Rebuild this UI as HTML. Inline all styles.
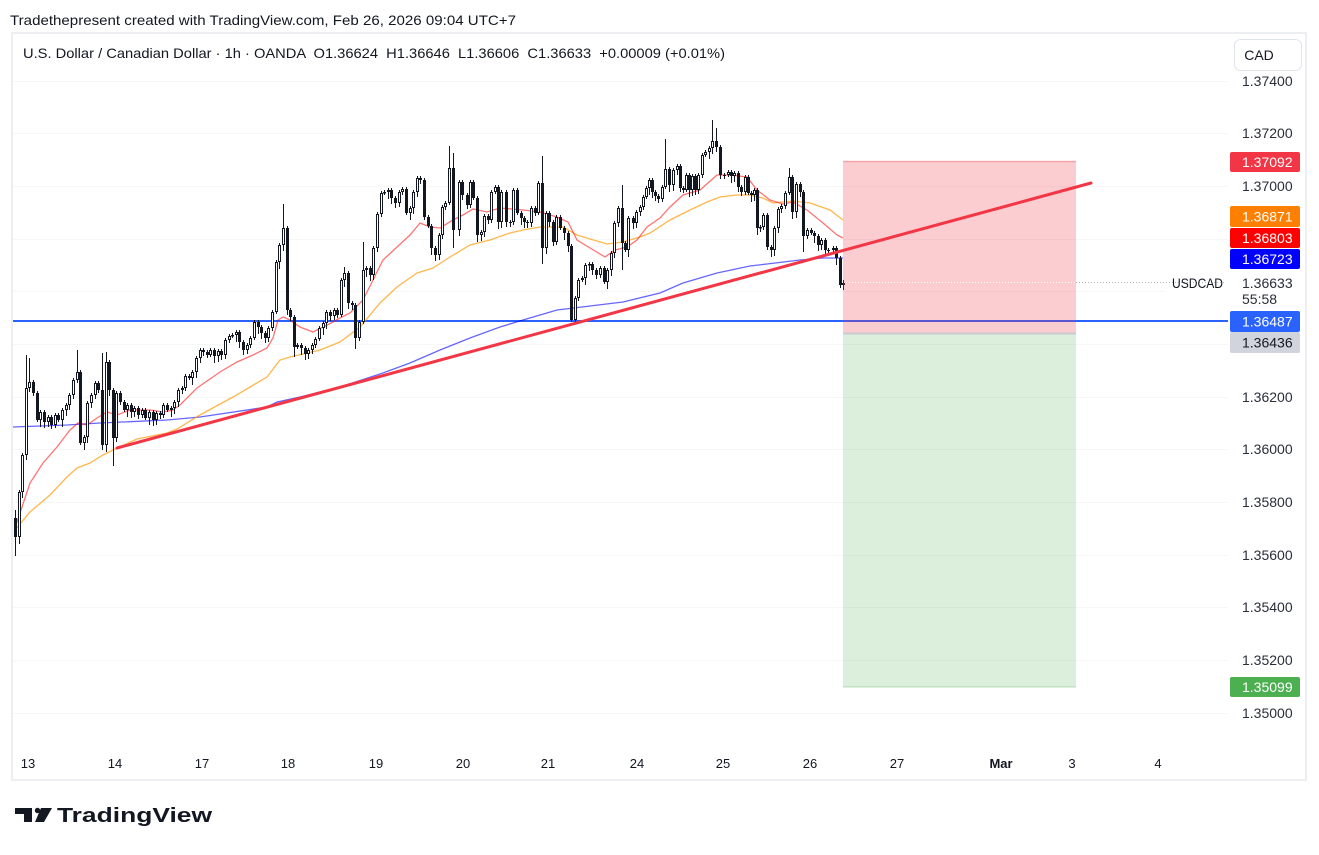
<!DOCTYPE html>
<html>
<head>
<meta charset="utf-8">
<style>
html,body{margin:0;padding:0;background:#fff;}
svg{display:block;font-family:"Liberation Sans",Arial,sans-serif;}
</style>
</head>
<body>
<svg id="chart" width="1319" height="855" viewBox="0 0 1319 855">
  <rect x="0" y="0" width="1319" height="855" fill="#ffffff"/>
  <!-- header -->
  <text x="10" y="25" font-size="14" fill="#131722" textLength="506" lengthAdjust="spacingAndGlyphs">Tradethepresent created with TradingView.com, Feb 26, 2026 09:04 UTC+7</text>
  <!-- frame -->
  <rect x="12" y="33" width="1294" height="747" fill="#ffffff" stroke="#eceef2" stroke-width="2"/>
  <!-- gridlines -->
  <g stroke="#f5f6f8" stroke-width="1">
    <line x1="13" x2="1228" y1="81.5" y2="81.5"/>
    <line x1="13" x2="1228" y1="133.5" y2="133.5"/>
    <line x1="13" x2="1228" y1="186.5" y2="186.5"/>
    <line x1="13" x2="1228" y1="239.5" y2="239.5"/>
    <line x1="13" x2="1165" y1="291.5" y2="291.5"/>
    <line x1="13" x2="1228" y1="344.5" y2="344.5"/>
    <line x1="13" x2="1228" y1="397.5" y2="397.5"/>
    <line x1="13" x2="1228" y1="449.5" y2="449.5"/>
    <line x1="13" x2="1228" y1="502.5" y2="502.5"/>
    <line x1="13" x2="1228" y1="555.5" y2="555.5"/>
    <line x1="13" x2="1228" y1="607.5" y2="607.5"/>
    <line x1="13" x2="1228" y1="660.5" y2="660.5"/>
    <line x1="13" x2="1228" y1="713.5" y2="713.5"/>
  </g>
  <!-- legend -->
  <text x="23" y="58" font-size="14" fill="#131722" style="white-space:pre" textLength="702" lengthAdjust="spacingAndGlyphs">U.S. Dollar / Canadian Dollar · 1h · OANDA  O1.36624  H1.36646  L1.36606  C1.36633  +0.00009 (+0.01%)</text>

  <!-- horizontal blue line -->
  <line x1="13" x2="1228" y1="321" y2="321" stroke="#2962ff" stroke-width="2"/>

  <!-- moving averages -->
  <polyline fill="none" stroke="#0000ff" stroke-opacity="0.6" stroke-width="1.3" points="13,427 67,425 100,423 167,420 200,417 267,407 277,402 300,397 340,387 380,374 410,363 440,350 470,338 500,327 523,320 557,310 590,306 623,302 660,293 683,283 717,273 750,266 767,264 800,260 823,258 843,258"/>
  <polyline fill="none" stroke="#ff9800" stroke-opacity="0.7" stroke-width="1.3" points="15,530 30,512 50,495 67,477 77,468 90,463 103,455 117,448 137,439 157,435 167,433 177,429 200,415 233,397 267,377 280,360 290,357 303,354 320,350 340,342 360,327 380,303 397,287 417,273 433,268 450,257 470,245 490,240 510,233 523,230 540,227 563,227 577,235 590,239 607,244 623,242 640,237 650,233 670,220 690,210 707,202 720,197 737,195 750,195 763,198 773,203 793,201 810,203 830,210 843,220"/>
  <polyline fill="none" stroke="#ff0000" stroke-opacity="0.55" stroke-width="1.3" points="15,528 17,522 30,483 43,463 57,447 70,430 78,423 87,425 97,418 107,412 117,415 130,410 150,410 163,412 173,410 180,405 197,388 220,372 237,362 253,355 267,348 273,338 278,320 283,317 290,320 300,327 313,332 323,327 333,322 340,318 350,313 363,300 373,280 383,260 397,247 410,235 420,223 430,227 440,228 453,220 463,215 473,209 487,212 500,208 523,210 540,212 557,217 568,222 577,240 590,248 605,257 615,250 627,247 637,240 647,227 660,218 670,207 683,195 700,190 717,175 730,175 747,177 757,190 770,200 783,204 793,202 807,210 823,223 837,235 843,238"/>

  <!-- candles -->
  <g id="cd"></g>

  <!-- position boxes -->
  <rect x="843" y="161" width="233" height="173" fill="#f23645" fill-opacity="0.25"/>
  <line x1="843" x2="1076" y1="161.5" y2="161.5" stroke="#f23645" stroke-opacity="0.3" stroke-width="1.5"/>
  <rect x="843" y="334" width="233" height="353" fill="#4caf50" fill-opacity="0.2"/>
  <line x1="843" x2="1076" y1="687" y2="687" stroke="#4caf50" stroke-opacity="0.3" stroke-width="1.2"/>
  <line x1="843" x2="1076" y1="333.5" y2="333.5" stroke="#c9cbd3" stroke-width="2"/>
  <!-- last price dotted -->
  <line x1="846" x2="1076" y1="282.5" y2="282.5" stroke="#ffffff" stroke-width="1" stroke-dasharray="1 2"/>
  <line x1="1076" x2="1225" y1="282.5" y2="282.5" stroke="#b2b5be" stroke-width="1" stroke-dasharray="1 2"/>

  <!-- trendline -->
  <line x1="117" y1="448" x2="1091" y2="183" stroke="#f23645" stroke-width="3" stroke-linecap="round"/>

  <!-- CAD button -->
  <rect x="1234.5" y="39.5" width="67" height="31" rx="6" fill="#fff" stroke="#e0e3eb"/>
  <text x="1259" y="60" font-size="14" fill="#131722" text-anchor="middle">CAD</text>

  <!-- axis labels -->
  <g font-size="14" fill="#2a2e39">
    <text x="1242" y="86">1.37400</text>
    <text x="1242" y="138">1.37200</text>
    <text x="1242" y="191">1.37000</text>
    <text x="1242" y="402">1.36200</text>
    <text x="1242" y="454">1.36000</text>
    <text x="1242" y="507">1.35800</text>
    <text x="1242" y="560">1.35600</text>
    <text x="1242" y="612">1.35400</text>
    <text x="1242" y="665">1.35200</text>
    <text x="1242" y="718">1.35000</text>
  </g>

  <!-- colored price labels -->
  <rect x="1230" y="152" width="70" height="20" rx="2" fill="#f23645"/>
  <text x="1242" y="167" font-size="14" fill="#fff">1.37092</text>
  <rect x="1230" y="206" width="70" height="21" rx="2" fill="#ff8000"/>
  <text x="1242" y="221.5" font-size="14" fill="#fff">1.36871</text>
  <rect x="1230" y="228" width="70" height="20" rx="2" fill="#ff0000"/>
  <text x="1242" y="243" font-size="14" fill="#fff">1.36803</text>
  <rect x="1230" y="249" width="70" height="20" rx="2" fill="#0000ff"/>
  <text x="1242" y="264" font-size="14" fill="#fff">1.36723</text>
  <text x="1172" y="288" font-size="14" fill="#131722" textLength="51" lengthAdjust="spacingAndGlyphs">USDCAD</text>
  <text x="1242" y="288" font-size="14" fill="#2a2e39">1.36633</text>
  <text x="1242" y="304" font-size="14" fill="#2a2e39">55:58</text>
  <rect x="1230" y="311" width="70" height="21" rx="2" fill="#2962ff"/>
  <text x="1242" y="326.5" font-size="14" fill="#fff">1.36487</text>
  <rect x="1230" y="332" width="70" height="21" rx="2" fill="#d1d4dc"/>
  <text x="1242" y="347.5" font-size="14" fill="#131722">1.36436</text>
  <rect x="1230" y="677" width="70" height="20" rx="2" fill="#4caf50"/>
  <text x="1242" y="692" font-size="14" fill="#fff">1.35099</text>

  <!-- time axis -->
  <g font-size="13" fill="#131722" text-anchor="middle">
    <text x="28" y="768">13</text>
    <text x="115" y="768">14</text>
    <text x="202" y="768">17</text>
    <text x="288" y="768">18</text>
    <text x="376" y="768">19</text>
    <text x="463" y="768">20</text>
    <text x="548" y="768">21</text>
    <text x="637" y="768">24</text>
    <text x="723" y="768">25</text>
    <text x="810" y="768">26</text>
    <text x="897" y="768">27</text>
    <text x="1001" y="768" font-weight="bold">Mar</text>
    <text x="1072" y="768">3</text>
    <text x="1158" y="768">4</text>
  </g>

  <!-- TradingView logo -->
  <g fill="#131722">
    <path d="M15,808 H32 V822 H24 V814 H15 Z"/>
    <circle cx="37.5" cy="810.5" r="2.7"/>
    <path d="M41,808 H52 L44,822 H35 Z"/>
  </g>
  <text x="57" y="822" font-size="20" font-weight="bold" fill="#131722" textLength="155" lengthAdjust="spacingAndGlyphs">TradingView</text>
</svg>
<script>
(function(){
var F=[537,492,455,388,382,393,420,412,422,417,425,415,420,410,405,395,380,372,443,437,403,395,383,390,445,362,390,438,393,402,410,405,412,408,415,410,418,412,420,413,415,405,410,408,402,390,388,376,378,372,358,350,352,355,350,356,351,355,340,336,335,332,342,350,345,338,322,327,333,338,328,312,262,245,228,310,317,347,345,348,354,350,345,339,328,323,312,316,310,315,280,273,303,305,338,322,270,268,275,248,214,193,192,190,198,203,192,189,213,208,192,178,180,217,226,248,255,235,207];
var S=[[445,203],[449,168],[453,230],[459,182],[462,195],[467,205],[470,182],[473,198],[477,235],[481,232],[484,216],[488,220],[491,192],[495,187],[498,222],[501,192],[506,222],[510,222],[513,190],[517,213],[521,218],[524,222],[527,223],[531,208],[535,213],[538,183],[542,248],[546,213],[549,222],[553,242],[556,217],[560,228],[564,233],[568,246],[571,320],[575,298],[578,280],[582,278],[585,265],[589,264],[592,270],[596,275],[600,268],[604,282],[607,270],[611,253],[614,223],[618,208],[622,243],[625,250],[628,218],[633,223],[636,212],[640,207],[643,197],[646,188],[649,180],[652,192],[655,196],[658,199],[662,187],[665,169],[669,185],[673,170],[677,166],[680,188],[683,190],[686,175],[689,190],[692,176],[695,190],[698,175],[702,155],[705,152],[709,148],[712,141],[716,147],[720,175],[724,175],[728,172],[731,176],[734,173],[738,187],[741,192],[745,177],[748,193],[751,195],[754,190],[757,228],[760,227],[763,215],[767,247],[771,250],[774,228],[778,209],[781,206],[785,193],[789,177],[792,212],[796,184],[800,192],[803,236],[807,230],[811,233],[814,236],[818,245],[821,240],[825,250],[828,250],[833,248],[836,258],[840,285],[843,283]];
var ov={15:[510,556],26:[355,0],29:[358,0],77:[350,0],102:[353,450],106:[352,0],113:[0,466],283:[204,0],294:[0,357],344:[267,0],355:[0,349],363:[242,0],449:[146,0],453:[153,248],542:[156,264],571:[0,322],622:[185,270],665:[139,0],712:[120,0],716:[128,0],757:[0,235],767:[0,250],789:[168,0],803:[0,252],840:[0,288],843:[280,290]};
var pts=F.map(function(c,i){return [15+3.62*i,c];}).concat(S);
var o=518,s='';
pts.forEach(function(p,i){
  var xr=Math.round(p[0]);var x=xr+0.5,c=p[1];
  var top=Math.min(o,c),bot=Math.max(o,c);
  if(bot-top<1){bot=top+1;}
  var h=top-(2+(i*7)%7),l=bot+(2+(i*5)%6);
  var v=ov[xr];
  if(v){if(v[0])h=v[0];if(v[1])l=v[1];}
  s+='<line x1="'+x+'" x2="'+x+'" y1="'+h+'" y2="'+l+'" stroke="#131722" stroke-width="1"/>';
  if(c<o){
    s+='<rect x="'+(x-1)+'" y="'+(top+0.5)+'" width="2" height="'+Math.max(bot-top-1,0.5)+'" fill="#fff" stroke="#131722" stroke-width="1"/>';
  }else{
    s+='<rect x="'+(x-1.5)+'" y="'+top+'" width="3" height="'+(bot-top)+'" fill="#131722"/>';
  }
  o=c;
});
document.getElementById('cd').innerHTML=s;
})();
</script>
</body>
</html>
